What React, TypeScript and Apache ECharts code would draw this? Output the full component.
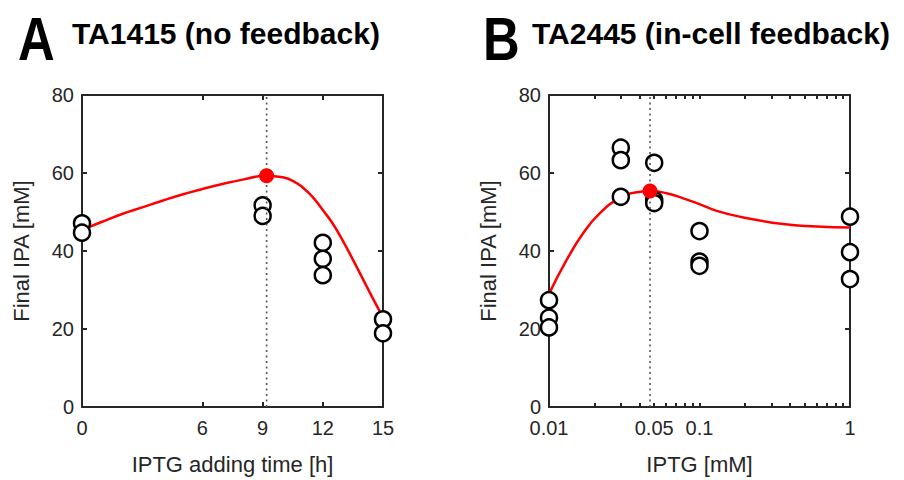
import React, { useEffect, useRef } from "react";
import * as echarts from "echarts";

// Panel A: TA1415 (no feedback)
const timeA = [0, 0, 9, 9, 12, 12, 12, 15, 15];
const ipaA = [47.1, 44.7, 51.7, 49.0, 42.1, 38.0, 33.8, 22.5, 18.9];
const curveTimeA = [0, 1, 2, 3, 4, 5, 6, 7, 8, 9.2, 10, 10.5, 11, 11.5, 12, 12.5, 13, 13.5, 14, 14.5, 15];
const curveIpaA = [45.4, 47.5, 49.5, 51.2, 52.9, 54.5, 55.9, 57.2, 58.3, 59.3, 58.9, 58.0, 56.3, 53.8, 50.5, 47.0, 42.6, 37.8, 32.8, 27.8, 23.0];
const optimumA = [9.2, 59.3];
const ticksA = [0, 6, 9, 12, 15];

// Panel B: TA2445 (in-cell feedback)
const iptgB = [0.01, 0.01, 0.01, 0.03, 0.03, 0.03, 0.05, 0.05, 0.05, 0.1, 0.1, 0.1, 1, 1, 1];
const ipaB = [27.4, 22.9, 20.4, 66.5, 63.3, 53.9, 62.6, 53.1, 52.3, 45.1, 37.3, 36.2, 48.8, 39.7, 32.8];
const curveIptgB = [0.01, 0.0131, 0.0169, 0.0218, 0.03, 0.0363, 0.0469, 0.0605, 0.078, 0.1, 0.13, 0.186, 0.36, 0.6, 1];
const curveIpaB = [29.0, 37.7, 44.6, 49.7, 53.8, 54.9, 55.4, 54.8, 53.5, 52.0, 50.3, 48.8, 46.9, 46.3, 46.0];
const optimumB = [0.0469, 55.4];
const labelTicksB = [0.01, 0.05, 0.1, 1];
const minorTicksB = [0.01, 0.02, 0.03, 0.04, 0.05, 0.06, 0.07, 0.08, 0.09, 0.1, 0.2, 0.3, 0.4, 0.5, 0.6, 0.7, 0.8, 0.9, 1];

const AX = "#262626";
const FONT = "Liberation Sans, Arial, sans-serif";

export default function App() {
  const ref = useRef<HTMLDivElement>(null);
  useEffect(() => {
    if (!ref.current) return;
    const chart = echarts.init(ref.current, undefined, { renderer: "svg" });
    const axisLine = { show: true, onZero: false, lineStyle: { color: AX, width: 2 } };
    const label = { color: AX, fontSize: 20, fontFamily: FONT };
    const nameStyle = { color: AX, fontSize: 22, fontFamily: FONT };

    const yAxisFor = (gi: number, right: boolean) => ({
      type: "value",
      gridIndex: gi,
      position: right ? "right" : "left",
      min: 0,
      max: 80,
      interval: 20,
      axisLine,
      splitLine: { show: false },
      axisTick: { show: true, inside: true, length: 5, lineStyle: { color: AX, width: 2 }, customValues: [20, 40, 60] },
      axisLabel: right ? { show: false } : { ...label, margin: 8 },
      name: right ? "" : "Final IPA [mM]",
      nameLocation: "middle",
      nameGap: 50,
      nameTextStyle: nameStyle,
    });

    const circleStyle = { color: "#ffffff", borderColor: "#000000", borderWidth: 2.5, opacity: 1 };
    const redDot = { color: "#ff0000", opacity: 1 };

    chart.setOption({
      animation: false,
      backgroundColor: "#ffffff",
      textStyle: { fontFamily: FONT },
      grid: [
        { left: 82, top: 95, width: 301, height: 312, containLabel: false },
        { left: 549, top: 95, width: 301, height: 312, containLabel: false },
      ],
      xAxis: [
        {
          type: "value",
          gridIndex: 0,
          position: "bottom",
          min: 0,
          max: 15,
          axisLine,
          splitLine: { show: false },
          axisTick: { show: true, inside: true, length: 5, lineStyle: { color: AX, width: 2 }, customValues: [6, 9, 12] },
          axisLabel: { ...label, margin: 11, customValues: ticksA, formatter: (v: number) => String(v) },
          name: "IPTG adding time [h]",
          nameLocation: "middle",
          nameGap: 46,
          nameTextStyle: nameStyle,
        },
        {
          type: "value",
          gridIndex: 0,
          position: "top",
          min: 0,
          max: 15,
          axisLine,
          splitLine: { show: false },
          axisTick: { show: true, inside: true, length: 5, lineStyle: { color: AX, width: 2 }, customValues: [6, 9, 12] },
          axisLabel: { show: false },
        },
        {
          type: "log",
          logBase: 10,
          gridIndex: 1,
          position: "bottom",
          min: 0.01,
          max: 1,
          axisLine,
          splitLine: { show: false },
          minorTick: { show: false },
          axisTick: { show: true, inside: true, length: 4, lineStyle: { color: AX, width: 2 }, customValues: minorTicksB },
          axisLabel: { ...label, margin: 11, customValues: labelTicksB, formatter: (v: number) => String(v) },
          name: "IPTG [mM]",
          nameLocation: "middle",
          nameGap: 46,
          nameTextStyle: nameStyle,
        },
        {
          type: "log",
          logBase: 10,
          gridIndex: 1,
          position: "top",
          min: 0.01,
          max: 1,
          axisLine,
          splitLine: { show: false },
          axisTick: { show: true, inside: true, length: 4, lineStyle: { color: AX, width: 2 }, customValues: minorTicksB },
          axisLabel: { show: false },
        },
      ],
      yAxis: [yAxisFor(0, false), yAxisFor(0, true), yAxisFor(1, false), yAxisFor(1, true)],
      series: [
        // Panel A
        {
          type: "line",
          xAxisIndex: 0,
          yAxisIndex: 0,
          data: curveTimeA.map((t, i) => [t, curveIpaA[i]]),
          smooth: true,
          showSymbol: false,
          lineStyle: { color: "#ff0000", width: 2.5 },
          z: 2,
        },
        {
          type: "scatter",
          xAxisIndex: 0,
          yAxisIndex: 0,
          data: timeA.map((t, i) => [t, ipaA[i]]),
          symbol: "circle",
          symbolSize: 16,
          itemStyle: circleStyle,
          z: 3,
        },
        {
          type: "line",
          xAxisIndex: 0,
          yAxisIndex: 0,
          data: [
            [optimumA[0], 0],
            [optimumA[0], 80],
          ],
          showSymbol: false,
          lineStyle: { color: "#555555", width: 1.6, type: [2, 3.5] },
          z: 4,
        },
        {
          type: "scatter",
          xAxisIndex: 0,
          yAxisIndex: 0,
          data: [optimumA],
          symbol: "circle",
          symbolSize: 15,
          itemStyle: redDot,
          z: 5,
        },
        // Panel B
        {
          type: "line",
          xAxisIndex: 2,
          yAxisIndex: 2,
          data: curveIptgB.map((c, i) => [c, curveIpaB[i]]),
          smooth: true,
          showSymbol: false,
          lineStyle: { color: "#ff0000", width: 2.5 },
          z: 2,
        },
        {
          type: "scatter",
          xAxisIndex: 2,
          yAxisIndex: 2,
          data: iptgB.map((c, i) => [c, ipaB[i]]),
          symbol: "circle",
          symbolSize: 16,
          itemStyle: circleStyle,
          z: 3,
        },
        {
          type: "line",
          xAxisIndex: 2,
          yAxisIndex: 2,
          data: [
            [optimumB[0], 0],
            [optimumB[0], 80],
          ],
          showSymbol: false,
          lineStyle: { color: "#555555", width: 1.6, type: [2, 3.5] },
          z: 4,
        },
        {
          type: "scatter",
          xAxisIndex: 2,
          yAxisIndex: 2,
          data: [optimumB],
          symbol: "circle",
          symbolSize: 15,
          itemStyle: redDot,
          z: 5,
        },
      ],
      graphic: [
        {
          type: "text",
          left: 18,
          top: 8,
          scaleX: 0.82,
          style: { text: "A", fontSize: 62, fontWeight: "bold", fontFamily: FONT, fill: "#000" },
        },
        {
          type: "text",
          left: 72,
          top: 18,
          style: { text: "TA1415 (no feedback)", fontSize: 30, fontWeight: "bold", fontFamily: FONT, fill: "#000" },
        },
        {
          type: "text",
          left: 483,
          top: 8,
          scaleX: 0.82,
          style: { text: "B", fontSize: 62, fontWeight: "bold", fontFamily: FONT, fill: "#000" },
        },
        {
          type: "text",
          left: 532,
          top: 18,
          style: { text: "TA2445 (in-cell feedback)", fontSize: 30, fontWeight: "bold", fontFamily: FONT, fill: "#000" },
        },
      ],
    });
    return () => chart.dispose();
  }, []);
  return <div ref={ref} style={{ position: "fixed", left: 0, top: 0, width: 904, height: 480 }} />;
}
